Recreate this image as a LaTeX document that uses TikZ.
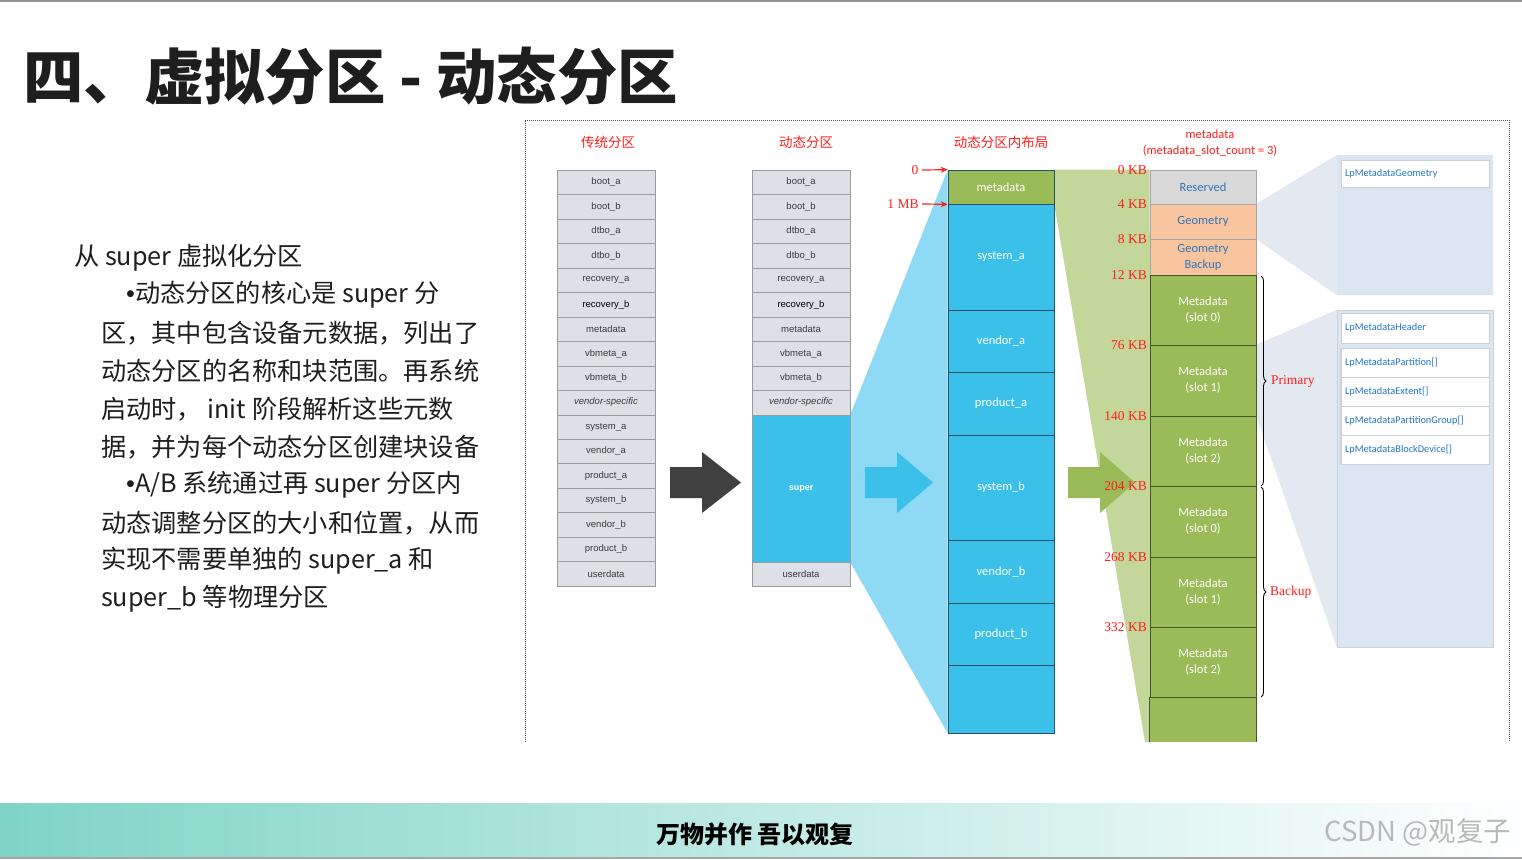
\documentclass[tikz,border=0pt]{standalone}
\usepackage{fontspec}
\setmainfont{Liberation Serif}
\newfontfamily\cjk{Noto Sans CJK SC}
\newfontfamily\calf{Carlito}
\newfontfamily\arl{Liberation Sans}
\usetikzlibrary{decorations.pathreplacing,arrows.meta}
\pgfdeclarelayer{bg}
\pgfdeclarelayer{bgbase}
\pgfsetlayers{bgbase,bg,main}
\definecolor{rowfill}{HTML}{DDE1E5}
\definecolor{rowborder}{HTML}{9C9C9C}
\definecolor{rowtext}{HTML}{3A3A3A}
\definecolor{sblue}{HTML}{3BC1E9}
\definecolor{fanblue}{HTML}{8ED9F3}
\definecolor{mgreen}{HTML}{9BBB59}
\definecolor{fangreen}{HTML}{C4D79B}
\definecolor{peach}{HTML}{F9C59E}
\definecolor{resgray}{HTML}{D9D9D9}
\definecolor{txtblue}{HTML}{2E75B6}
\definecolor{lpblue}{HTML}{1F77C8}
\definecolor{panel}{HTML}{DCE6F2}
\definecolor{fanpale}{HTML}{E3E9F1}
\definecolor{panelborder}{HTML}{C9D1DA}
\definecolor{myred}{HTML}{FF1E1E}
\definecolor{darkarrow}{HTML}{404040}
\definecolor{teal1}{HTML}{7FD4C6}
\definecolor{c3border}{HTML}{2A5068}
\definecolor{c4border}{HTML}{46552E}
\definecolor{titlec}{HTML}{1E1E1E}
\newcommand{\bul}{{\arl •}}
\begin{document}
\begin{tikzpicture}[x=1pt,y=-1pt,
  prow/.style={draw=rowborder, fill=rowfill, minimum width=98pt, minimum height=24.47pt, inner sep=0pt, text=rowtext, font=\arl\fontsize{9.5}{10}\selectfont},
  lt/.style={anchor=west, inner sep=0pt, text=titlec, font=\cjk\fontsize{25.2}{30}\selectfont},
  coltitle/.style={inner sep=0pt, text=myred, font=\cjk\fontsize{13.5}{15}\selectfont},
  c3/.style={draw=c3border, line width=0.6pt, fill=sblue, text=white, minimum width=106pt, inner sep=0pt, font=\calf\fontsize{12.5}{14}\selectfont},
  c4/.style={draw=c4border, line width=0.6pt, fill=mgreen, text=white, minimum width=106pt, inner sep=0pt, align=center, font=\calf\fontsize{12.5}{16}\selectfont},
  kb/.style={anchor=east, inner sep=0pt, text=myred, font=\fontsize{13.5}{15}\selectfont},
  lpbox/.style={draw=panelborder, fill=white, minimum width=148pt, inner sep=0pt, text width=140pt, align=left, text=lpblue, font=\calf\fontsize{10.3}{12}\selectfont},
  redarrow/.style={draw=myred, line width=1.2pt, -{Stealth[length=7pt,width=6pt]}}
]
\useasboundingbox (0,0) rectangle (1522,859);
\begin{pgfonlayer}{bgbase}
\fill[white] (0,0) rectangle (1522,859);
\end{pgfonlayer}

% top and bottom lines, bottom band
\fill[gray!85] (0,0) rectangle (1522,2);
\shade[left color=teal1, right color=white] (0,803) rectangle (1522,857);
\fill[gray!70] (0,857) rectangle (1522,859);
\node[inner sep=0pt, font=\cjk\bfseries\fontsize{24}{28}\selectfont, text=black] (motto) at (755,834) {万物并作 吾以观复};
\node[inner sep=0pt, font=\cjk\fontsize{27.5}{30}\selectfont, text=gray!55] (csdn) at (1418,832) {CSDN @观复子};

% title
\node[anchor=west, inner sep=0pt, text=titlec, font=\cjk\bfseries\fontsize{60.4}{66}\selectfont] (title) at (23,76) {四、虚拟分区 - 动态分区};

% left text
\node[lt] (l1) at (74,258) {从 super 虚拟化分区};
\node[lt] (l2) at (126,295) {\bul 动态分区的核心是 super 分};
\node[lt] (l3) at (101,333) {区，其中包含设备元数据，列出了};
\node[lt] (l4) at (101,371) {动态分区的名称和块范围。再系统};
\node[lt] (l5) at (101,409) {启动时， init 阶段解析这些元数};
\node[lt] (l6) at (101,447) {据，并为每个动态分区创建块设备};
\node[lt] (l7) at (126,485) {\bul A/B 系统通过再 super 分区内};
\node[lt] (l8) at (101,523) {动态调整分区的大小和位置，从而};
\node[lt] (l9) at (101,561) {实现不需要单独的 super\_a 和};
\node[lt] (l10) at (101,599) {super\_b 等物理分区};

% dotted frame
\draw[black!70, line width=0.8pt, dash pattern=on 1pt off 1pt] (525,742) -- (525,120) -- (1509,120) -- (1509,742);

% column titles
\node[coltitle] (t1) at (608,142) {传统分区};
\node[coltitle] (t2) at (806,142) {动态分区};
\node[coltitle] (t3) at (1001,142) {动态分区内布局};
\node[inner sep=0pt, text=myred, font=\calf\fontsize{12.5}{14}\selectfont] (t4a) at (1210,134) {metadata};
\node[inner sep=0pt, text=myred, font=\calf\fontsize{12.5}{14}\selectfont] (t4b) at (1210,151) {(metadata\_slot\_count = 3)};

% column 1
\foreach \t [count=\i from 0] in {boot\_a,boot\_b,dtbo\_a,dtbo\_b,recovery\_a,{\color{black}recovery\_b},metadata,vbmeta\_a,vbmeta\_b,{\itshape vendor-specific},system\_a,vendor\_a,product\_a,system\_b,vendor\_b,product\_b,userdata}
  \node[prow] (a\i) at (606,{182.235+24.47*\i}) {\t};

% column 2
\foreach \t [count=\i from 0] in {boot\_a,boot\_b,dtbo\_a,dtbo\_b,recovery\_a,{\color{black}recovery\_b},metadata,vbmeta\_a,vbmeta\_b,{\itshape vendor-specific}}
  \node[prow] (b\i) at (801,{182.235+24.47*\i}) {\t};
\node[prow, fill=sblue, minimum height=146.8pt, text=white, font=\arl\bfseries\fontsize{9}{10}\selectfont] (bsuper) at (801,488.6) {super};
\node[prow] (buser) at (801,574.2) {userdata};

% column 3
\node[c3, fill=mgreen, minimum height=34pt] (cmeta) at (1001,187) {metadata};
\node[c3, minimum height=106pt] (csa) at (1001,257) {system\_a};
\node[c3, minimum height=62pt] (cva) at (1001,341) {vendor\_a};
\node[c3, minimum height=63pt] (cpa) at (1001,403.5) {product\_a};
\node[c3, minimum height=105pt] (csb) at (1001,487.5) {system\_b};
\node[c3, minimum height=63pt] (cvb) at (1001,571.5) {vendor\_b};
\node[c3, minimum height=62pt] (cpb) at (1001,634) {product\_b};
\node[c3, minimum height=68pt] (cend) at (1001,699) {};

% labels 0 and 1 MB
\node[inner sep=0pt, text=myred, font=\fontsize{13.5}{15}\selectfont] (z0) at (915,170) {0};
\node[inner sep=0pt, text=myred, font=\fontsize{13.5}{15}\selectfont] (z1) at (903,204) {1 MB};
\draw[redarrow] (922,170) -- (cmeta.north west);
\draw[redarrow] (922,204) -- (cmeta.south west);

% column 4
\node[c4, fill=resgray, draw=gray!70, text=txtblue, minimum height=34pt] (dres) at (1203,187) {Reserved};
\node[c4, fill=peach, draw=gray!70, text=txtblue, minimum height=35pt] (dgeo) at (1203,221.5) {Geometry};
\node[c4, fill=peach, draw=gray!70, text=txtblue, minimum height=36pt] (dgeob) at (1203,257) {Geometry\\Backup};
\node[c4, minimum height=70pt] (ds0) at (1203,310) {Metadata\\(slot 0)};
\node[c4, minimum height=71pt] (ds1) at (1203,380.5) {Metadata\\(slot 1)};
\node[c4, minimum height=70pt] (ds2) at (1203,451) {Metadata\\(slot 2)};
\node[c4, minimum height=71pt] (ds3) at (1203,521.5) {Metadata\\(slot 0)};
\node[c4, minimum height=70pt] (ds4) at (1203,592) {Metadata\\(slot 1)};
\node[c4, minimum height=71pt] (ds5) at (1203,662.5) {Metadata\\(slot 2)};
\node[c4, draw=none, minimum height=44pt] (dend) at (1203,720) {};
\draw[c4border, line width=0.6pt] (dend.south west) -- (dend.north west) -- (dend.north east) -- (dend.south east);

% block arrows
\fill[darkarrow] (670,467) -- (702,467) -- (702,452) -- (741,482.5) -- (702,513) -- (702,498) -- (670,498) -- cycle;
\fill[sblue] (865,467) -- (897,467) -- (897,452) -- (933,482.5) -- (897,513) -- (897,498) -- (865,498) -- cycle;
\fill[mgreen] (1068,467) -- (1100,467) -- (1100,452) -- (1135,482.5) -- (1100,513) -- (1100,498) -- (1068,498) -- cycle;

% KB labels
\node[kb] (k0) at (1147,170) {0 KB};
\node[kb] (k4) at (1147,204) {4 KB};
\node[kb] (k8) at (1147,239) {8 KB};
\node[kb] (k12) at (1147,275) {12 KB};
\node[kb] (k76) at (1147,345) {76 KB};
\node[kb] (k140) at (1147,416) {140 KB};
\node[kb] (k204) at (1147,486) {204 KB};
\node[kb] (k268) at (1147,557) {268 KB};
\node[kb] (k332) at (1147,627) {332 KB};

% braces
\draw[black, line width=0.9pt, decorate, decoration={brace, amplitude=5pt}] (1261,276) -- (1261,486);
\draw[black, line width=0.9pt, decorate, decoration={brace, amplitude=5pt}] (1261,487) -- (1261,697);
\node[anchor=west, inner sep=0pt, text=myred, font=\fontsize{13.5}{15}\selectfont] (prim) at (1271,381) {Primary};
\node[anchor=west, inner sep=0pt, text=myred, font=\fontsize{13.5}{15}\selectfont] (back) at (1270,592) {Backup};

% right panel
\node[fill=panel, minimum width=156pt, minimum height=140pt, inner sep=0pt] (upbox) at (1415,225) {};
\node[draw=panelborder, fill=panel, minimum width=156pt, minimum height=337pt, inner sep=0pt] (lowbox) at (1415,478.5) {};
\node[lpbox, minimum height=27pt] (lpgeo) at (1415,173.5) {LpMetadataGeometry};
\node[lpbox, minimum height=30pt] (lphead) at (1415,328) {LpMetadataHeader};
\node[lpbox, minimum height=29pt] (lppart) at (1415,363) {LpMetadataPartition[]};
\node[lpbox, minimum height=29pt] (lpext) at (1415,392) {LpMetadataExtent[]};
\node[lpbox, minimum height=29pt] (lpgrp) at (1415,421) {LpMetadataPartitionGroup[]};
\node[lpbox, minimum height=29pt] (lpdev) at (1415,450) {LpMetadataBlockDevice[]};
\draw[panelborder, line width=0.8pt] (lppart.north west) rectangle (lpdev.south east);

% fans (background)
\begin{pgfonlayer}{bg}
\fill[fanblue] (bsuper.north east) -- (cmeta.north west) -- (cend.south west) -- (bsuper.south east) -- cycle;
\fill[fangreen] (cmeta.north east) -- (dres.north west) -- (1150,742) -- (1145,742) -- (cmeta.south east) -- cycle;
\fill[fanpale] (dgeo.north east) -- (upbox.north west) -- (upbox.south west) -- (dgeo.south east) -- cycle;
\fill[fanpale] (ds1.north east) -- (lowbox.north west) -- (lowbox.south west) -- (ds1.south east) -- cycle;
\end{pgfonlayer}
\end{tikzpicture}
\end{document}
